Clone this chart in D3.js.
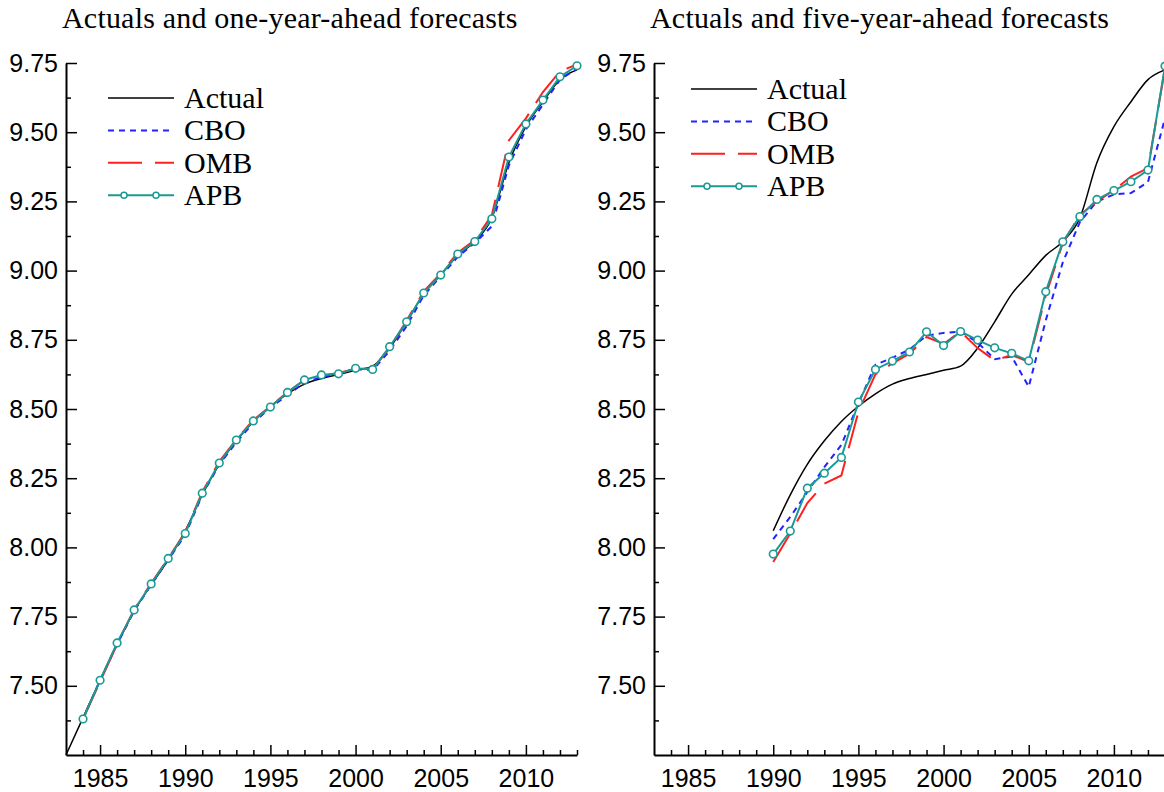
<!DOCTYPE html>
<html>
<head>
<meta charset="utf-8">
<script src="https://cdn.jsdelivr.net/npm/d3@7"></script>
<style>
body{margin:0;background:#fff;}
svg{display:block;}
.title, .legend text{font-family:"Liberation Serif","Times New Roman",serif;font-size:30px;fill:#000;}
.title{letter-spacing:0.2px;}
.axis text{font-family:"Liberation Sans",Arial,sans-serif;font-size:25px;fill:#000;}
.axis path{stroke:#000;stroke-width:2;}
.axis line{stroke:#000;stroke-width:1.5;}
</style>
</head>
<body>
<svg id="chart" width="1164" height="792"></svg>
<script>
// years 1983..2013
const years = [1983,1984,1985,1986,1987,1988,1989,1990,1991,1992,1993,1994,1995,1996,1997,
    1998,1999,2000,2001,2002,2003,2004,2005,2006,2007,2008,2009,2010,2011,2012,2013];

const actual = [7.25,7.385,7.52,7.65,7.77,7.865,7.955,8.06,8.19,8.30,8.385,8.455,8.51,8.555,8.59,
    8.61,8.625,8.64,8.655,8.72,8.815,8.915,8.985,9.055,9.105,9.19,9.39,9.52,9.61,9.69,9.725];

// one-year-ahead forecasts, 1984..2013
const cbo1 = [7.38,7.52,7.65,7.77,7.865,7.955,8.045,8.19,8.30,8.38,8.45,8.505,8.55,8.595,8.615,
    8.628,8.645,8.64,8.71,8.80,8.91,8.98,9.05,9.10,9.16,9.38,9.51,9.60,9.69,9.73];
const omb1 = [7.38,7.515,7.65,7.775,7.87,7.96,8.055,8.20,8.31,8.39,8.46,8.51,8.56,8.605,8.62,
    8.63,8.645,8.645,8.72,8.82,8.925,8.99,9.065,9.11,9.20,9.47,9.55,9.645,9.72,9.745];
const apb1 = [7.38,7.52,7.655,7.774,7.868,7.96,8.05,8.196,8.305,8.388,8.457,8.507,8.56,8.605,8.623,
    8.627,8.647,8.643,8.725,8.815,8.919,8.984,9.06,9.105,9.187,9.41,9.53,9.616,9.70,9.74];

// five-year-ahead forecasts, 1990..2013
const cbo5 = [8.03,8.11,8.20,8.29,8.37,8.52,8.66,8.685,8.715,8.765,8.775,8.78,8.74,8.68,8.69,
    8.58,8.82,9.03,9.175,9.25,9.275,9.28,9.32,9.55];
const omb5 = [7.947,8.05,8.16,8.23,8.26,8.49,8.625,8.665,8.70,8.76,8.735,8.78,8.72,8.675,8.695,
    8.67,8.91,9.10,9.20,9.25,9.29,9.34,9.37,9.73];
const apb5 = [7.976,8.059,8.214,8.268,8.325,8.525,8.643,8.673,8.706,8.779,8.729,8.78,8.749,8.721,
    8.701,8.674,8.924,9.104,9.195,9.257,9.289,9.321,9.363,9.739];

const yTicks = [7.50,7.75,8.00,8.25,8.50,8.75,9.00,9.25,9.50,9.75];
const xTicks = [1985,1990,1995,2000,2005,2010];
const seriesNames = ['Actual','CBO','OMB','APB'];

const STYLE = {
    Actual: {stroke: '#000', width: 1.5, dash: null},
    CBO: {stroke: '#2222ff', width: 2, dash: '6,5'},
    OMB: {stroke: '#ff1f1f', width: 2, dash: '34,13'},
    APB: {stroke: '#1a9a95', width: 2, dash: null, marker: true}
};

const TOP = 63, BOTTOM = 755;

const panels = [
    {title: 'Actuals and one-year-ahead forecasts', left: 66, right: 577, from: 1984,
        cbo: cbo1, omb: omb1, apb: apb1, actualFrom: 1983, legendX: 108, legendY: 98},
    {title: 'Actuals and five-year-ahead forecasts', left: 654, right: 1165, from: 1990,
        cbo: cbo5, omb: omb5, apb: apb5, actualFrom: 1990, legendX: 691, legendY: 89}
];

const svg = d3.select('#chart');

function pairs(from, values){
    const i0 = years.indexOf(from);
    return values.map((v, i) => ({year: years[i0 + i], value: v}));
}

function drawPanel(p){
    const x = d3.scaleLinear().domain([1983, 2013]).range([p.left, p.right]);
    const y = d3.scaleLinear().domain([7.25, 9.75]).range([BOTTOM, TOP]);
    const g = svg.append('g');

    g.append('text')
        .attr('class', 'title')
        .attr('x', p.left - 4)
        .attr('y', 28)
        .text(p.title);

    // minor ticks first, then major axis on top
    const yMinor = d3.range(7.375, 9.75, 0.25);
    const xMinor = years.filter(d => d > 1983 && d % 5 !== 0);

    g.append('g').attr('class', 'axis')
        .attr('transform', `translate(${p.left},0)`)
        .call(d3.axisLeft(y).tickValues(yMinor).tickSize(-5).tickSizeOuter(0).tickFormat(''))
        .select('.domain').remove();
    g.append('g').attr('class', 'axis')
        .attr('transform', `translate(0,${BOTTOM})`)
        .call(d3.axisBottom(x).tickValues(xMinor).tickSize(-5).tickSizeOuter(0).tickFormat(''))
        .select('.domain').remove();

    g.append('g').attr('class', 'axis')
        .attr('transform', `translate(${p.left},0)`)
        .call(d3.axisLeft(y).tickValues(yTicks).tickSize(-11).tickSizeOuter(0)
            .tickPadding(8).tickFormat(d3.format('.2f')));
    g.append('g').attr('class', 'axis')
        .attr('transform', `translate(0,${BOTTOM})`)
        .call(d3.axisBottom(x).tickValues(xTicks).tickSize(-10).tickSizeOuter(0)
            .tickPadding(14).tickFormat(d3.format('d')))
        .selectAll('text').attr('dy', '0.71em');

    const data = {
        Actual: pairs(1983, actual).filter(d => d.year >= p.actualFrom),
        CBO: pairs(p.from, p.cbo),
        OMB: pairs(p.from, p.omb),
        APB: pairs(p.from, p.apb)
    };

    const line = d3.line().x(d => x(d.year)).y(d => y(d.value));

    seriesNames.forEach(name => {
        const s = STYLE[name];
        g.append('path')
            .datum(data[name])
            .attr('fill', 'none')
            .attr('stroke', s.stroke)
            .attr('stroke-width', s.width)
            .attr('stroke-dasharray', s.dash)
            .attr('d', line.curve(name === 'Actual' ? d3.curveMonotoneX : d3.curveLinear));
        if(s.marker){
            g.append('g').selectAll('circle')
                .data(data[name])
                .join('circle')
                .attr('cx', d => x(d.year))
                .attr('cy', d => y(d.value))
                .attr('r', 3.8)
                .attr('fill', '#fff')
                .attr('stroke', s.stroke)
                .attr('stroke-width', 1.6);
        }
    });

    const legend = g.append('g').attr('class', 'legend')
        .attr('transform', `translate(${p.legendX},${p.legendY})`);
    seriesNames.forEach((name, i) => {
        const s = STYLE[name];
        const row = legend.append('g').attr('transform', `translate(0,${i * 32.4})`);
        row.append('line')
            .attr('x1', 0).attr('x2', 66)
            .attr('stroke', s.stroke)
            .attr('stroke-width', s.width)
            .attr('stroke-dasharray', s.dash);
        if(s.marker){
            row.selectAll('circle').data([16, 48]).join('circle')
                .attr('cx', d => d).attr('r', 3)
                .attr('fill', '#fff').attr('stroke', s.stroke).attr('stroke-width', 1.5);
        }
        row.append('text').attr('x', 76).attr('y', 10).text(name);
    });
}

panels.forEach(drawPanel);
</script>
</body>
</html>
